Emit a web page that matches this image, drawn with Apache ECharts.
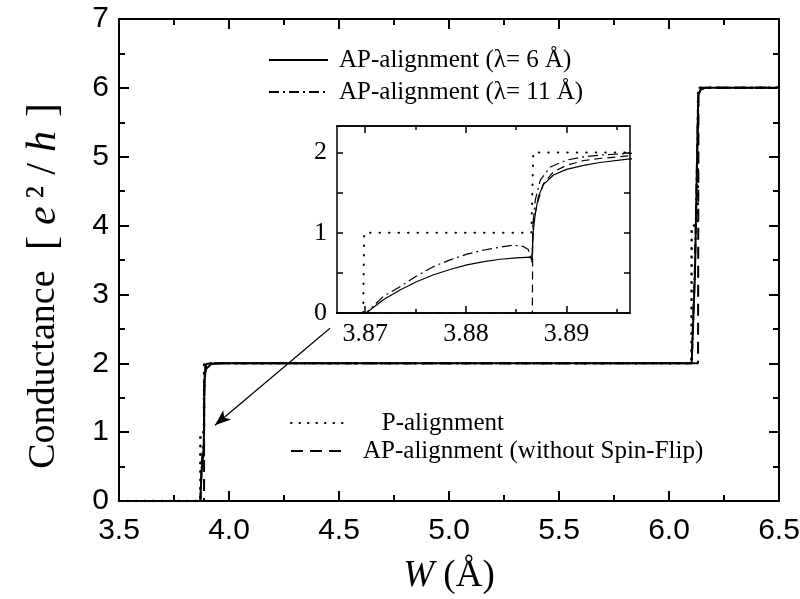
<!DOCTYPE html>
<html>
<head>
<meta charset="utf-8">
<script src="https://cdn.jsdelivr.net/npm/echarts@6/dist/echarts.min.js"></script>
<style>
  html, body { margin: 0; padding: 0; background: #fff; }
  #chart { width: 800px; height: 599px; }
</style>
</head>
<body>
<div id="chart"></div>
<script>
// W (Å) vs conductance (e^2/h)
const apLambda6 = [
  [3.5, 0], [3.8701, 0], [3.8718, 0.166], [3.8735, 0.29], [3.8751, 0.39], [3.8768, 0.476],
  [3.8785, 0.545], [3.8801, 0.60], [3.8818, 0.64], [3.8834, 0.67], [3.885, 0.688],
  [3.8864, 0.696], [3.88655, 0.66], [3.8867, 1.03], [3.8869, 1.24], [3.8872, 1.45],
  [3.8877, 1.6], [3.8887, 1.72], [3.89, 1.79], [3.8917, 1.84], [3.8933, 1.875],
  [3.8963, 1.92], [3.92, 1.99], [3.97, 2.0], [6.103, 2.0], [6.118, 3.3], [6.133, 5.9],
  [6.145, 5.98], [6.164, 6.0], [6.5, 6.0]
];
const apLambda11 = [
  [3.5, 0], [3.8701, 0], [3.8718, 0.207], [3.8735, 0.33], [3.8751, 0.46], [3.8768, 0.58],
  [3.8785, 0.665], [3.8801, 0.733], [3.8818, 0.785], [3.8834, 0.82], [3.8847, 0.845],
  [3.8857, 0.83], [3.8862, 0.79], [3.8864, 0.70], [3.88655, 0.63], [3.8867, 1.16],
  [3.8869, 1.41], [3.8874, 1.66], [3.8884, 1.82], [3.89, 1.905], [3.8917, 1.946],
  [3.8933, 1.967], [3.8963, 1.99], [3.92, 2.0], [6.103, 2.0], [6.118, 3.4], [6.133, 5.9],
  [6.145, 5.98], [6.164, 6.0], [6.5, 6.0]
];
const pAlign = [
  [3.5, 0], [3.8698, 0], [3.8699, 1], [3.8865, 1], [3.8867, 2], [6.102, 2], [6.103, 4],
  [6.131, 4], [6.132, 6], [6.5, 6]
];
const apNoSpinFlip = [
  [3.5, 0], [3.8866, 0], [3.88665, 1.1], [3.8871, 1.37], [3.8877, 1.61], [3.8887, 1.76],
  [3.89, 1.84], [3.8917, 1.90], [3.8933, 1.925], [3.8963, 1.96], [3.93, 2.0],
  [6.132, 2.0], [6.134, 6.0], [6.5, 6.0]
];
const insetXMajor = [3.87, 3.88, 3.89];
const insetXMinor = [3.875, 3.885, 3.895];
const arrowFrom = [4.459, 2.51];
const arrowTo = [3.936, 1.10];

const SERIF = 'Liberation Serif';
const SANS = 'Liberation Sans';

const chart = echarts.init(document.getElementById('chart'));

function mainAxisX(pos, labels) {
  return {
    type: 'value', gridIndex: 0, position: pos, min: 3.5, max: 6.5, interval: 0.5,
    axisLine: { show: true, onZero: false, lineStyle: { color: '#000', width: 2 } },
    axisTick: { show: true, inside: true, length: 10, lineStyle: { color: '#000', width: 2 } },
    minorTick: { show: true, splitNumber: 2, length: 6, lineStyle: { color: '#000', width: 2 } },
    axisLabel: { show: labels, margin: 15, fontSize: 30, fontFamily: SANS, color: '#000',
      formatter: v => v.toFixed(1) },
    splitLine: { show: false }
  };
}
function mainAxisY(pos, labels) {
  return {
    type: 'value', gridIndex: 0, position: pos, min: 0, max: 7, interval: 1,
    axisLine: { show: true, onZero: false, lineStyle: { color: '#000', width: 2 } },
    axisTick: { show: true, inside: true, length: 10, lineStyle: { color: '#000', width: 2 } },
    minorTick: { show: true, splitNumber: 2, length: 6, lineStyle: { color: '#000', width: 2 } },
    axisLabel: { show: labels, margin: 10, fontSize: 30, fontFamily: SANS, color: '#000' },
    splitLine: { show: false }
  };
}
function insetAxisX(pos, values, labels, len) {
  return {
    type: 'value', gridIndex: 1, position: pos, min: 3.8672, max: 3.8963,
    axisLine: { show: true, onZero: false, lineStyle: { color: '#000', width: 1.5 } },
    axisTick: { show: true, inside: true, length: len, customValues: values,
      lineStyle: { color: '#000', width: 1.5 } },
    axisLabel: { show: labels, customValues: values, margin: 8, fontSize: 26,
      fontFamily: SERIF, color: '#000', formatter: v => v.toFixed(2) },
    splitLine: { show: false }
  };
}
function insetAxisY(pos, labels) {
  return {
    type: 'value', gridIndex: 1, position: pos, min: 0, max: 2.33, interval: 0.5,
    axisLine: { show: true, onZero: false, lineStyle: { color: '#000', width: 1.5 } },
    axisTick: { show: true, inside: true, length: 6, lineStyle: { color: '#000', width: 1.5 } },
    axisLabel: { show: labels, margin: 10, fontSize: 26, fontFamily: SERIF, color: '#000',
      showMaxLabel: false, formatter: v => (v % 1 === 0 ? String(v) : '') },
    splitLine: { show: false }
  };
}

const styles = {
  'AP-alignment (λ= 6 Å)': { type: 'solid' },
  'AP-alignment (λ= 11 Å)': { type: [10, 4, 2, 4] },
  'P-alignment': { type: [0.5, 8], cap: 'round' },
  'AP-alignment (without Spin-Flip)': { type: [12, 7] }
};
const curves = [
  ['AP-alignment (λ= 6 Å)', apLambda6],
  ['AP-alignment (λ= 11 Å)', apLambda11],
  ['P-alignment', pAlign],
  ['AP-alignment (without Spin-Flip)', apNoSpinFlip]
];

const series = [];
curves.forEach(([name, data]) => {
  const st = styles[name];
  series.push({
    name, type: 'line', xAxisIndex: 0, yAxisIndex: 0, data,
    showSymbol: false, symbol: 'none', animation: false,
    itemStyle: { color: '#000' },
    lineStyle: { color: '#000', width: name === 'P-alignment' ? 2.5 : 2, type: st.type, cap: st.cap || 'butt' }
  });
});
curves.forEach(([name, data]) => {
  const st = styles[name];
  series.push({
    name, type: 'line', xAxisIndex: 2, yAxisIndex: 2, data,
    showSymbol: false, symbol: 'none', animation: false,
    itemStyle: { color: '#000' },
    lineStyle: {
      color: '#000', width: name === 'P-alignment' ? 2 : 1.2,
      type: name === 'P-alignment' ? [0.5, 9] : (name === 'AP-alignment (without Spin-Flip)' ? [8, 5] : st.type),
      cap: st.cap || 'butt'
    }
  });
});
// arrow pointing from the inset to the first step
series[0].markLine = {
  silent: true, animation: false, symbol: ['none', 'arrow'], symbolSize: [9, 16],
  label: { show: false },
  lineStyle: { color: '#000', width: 1.2, type: 'solid' },
  data: [[{ coord: arrowFrom }, { coord: arrowTo }]]
};

const option = {
  backgroundColor: '#fff',
  animation: false,
  grid: [
    { left: 119, right: 21, top: 19, bottom: 98, containLabel: false, outerBoundsMode: 'none' },
    { left: 337, top: 126, width: 293, height: 187, backgroundColor: '#fff', show: true, borderWidth: 0,
      containLabel: false, outerBoundsMode: 'none' }
  ],
  legend: [
    {
      data: ['AP-alignment (λ= 6 Å)', 'AP-alignment (λ= 11 Å)'],
      orient: 'vertical', left: 268, top: 45, padding: 0, itemGap: 2,
      itemWidth: 59, itemHeight: 14, selectedMode: false,
      itemStyle: { opacity: 0 },
      textStyle: { fontFamily: SERIF, fontSize: 25, color: '#000', lineHeight: 30, padding: [0, 0, 0, 6] }
    },
    {
      data: ['P-alignment', 'AP-alignment (without Spin-Flip)'],
      orient: 'vertical', left: 290, top: 409, padding: 0, itemGap: 0,
      itemWidth: 55, itemHeight: 14, selectedMode: false,
      itemStyle: { opacity: 0 },
      formatter: n => (n === 'P-alignment' ? '   ' + n : n),
      textStyle: { fontFamily: SERIF, fontSize: 25, color: '#000', lineHeight: 28, padding: [0, 0, 0, 12] }
    }
  ],
  xAxis: [
    Object.assign(mainAxisX('bottom', true), {
      name: '{i|W}{n| (Å)}', nameLocation: 'middle', nameGap: 57,
      nameTextStyle: { fontFamily: SERIF, color: '#000',
        rich: { i: { fontSize: 37, fontStyle: 'italic', fontFamily: SERIF },
                n: { fontSize: 37, fontFamily: SERIF } } }
    }),
    mainAxisX('top', false),
    insetAxisX('bottom', insetXMajor, true, 7),
    insetAxisX('bottom', insetXMinor, false, 4),
    insetAxisX('top', insetXMajor, false, 7),
    insetAxisX('top', insetXMinor, false, 4)
  ],
  yAxis: [
    Object.assign(mainAxisY('left', true), {
      name: '{t|Conductance }{b|[}{i|e}{s|²}{b|/}{i|h}{e|]}', nameLocation: 'middle', nameGap: 52,
      nameTextStyle: { fontFamily: SERIF, color: '#000',
        rich: {
          t: { fontSize: 38, fontFamily: SERIF, lineHeight: 46, padding: [0, 6, 0, 0] },
          b: { fontSize: 42, fontFamily: SERIF, lineHeight: 46, padding: [0, 5, 0, 5] },
          e: { fontSize: 42, fontFamily: SERIF, lineHeight: 46, padding: [0, 52, 0, 8] },
          i: { fontSize: 42, fontFamily: SERIF, fontStyle: 'italic', lineHeight: 46, padding: [0, 6, 0, 6] },
          s: { fontSize: 42, fontFamily: SERIF, lineHeight: 46, padding: [0, 6, 0, 2] }
        } }
    }),
    mainAxisY('right', false),
    insetAxisY('left', true),
    insetAxisY('right', false)
  ],
  series
};
chart.setOption(option);
</script>
</body>
</html>
